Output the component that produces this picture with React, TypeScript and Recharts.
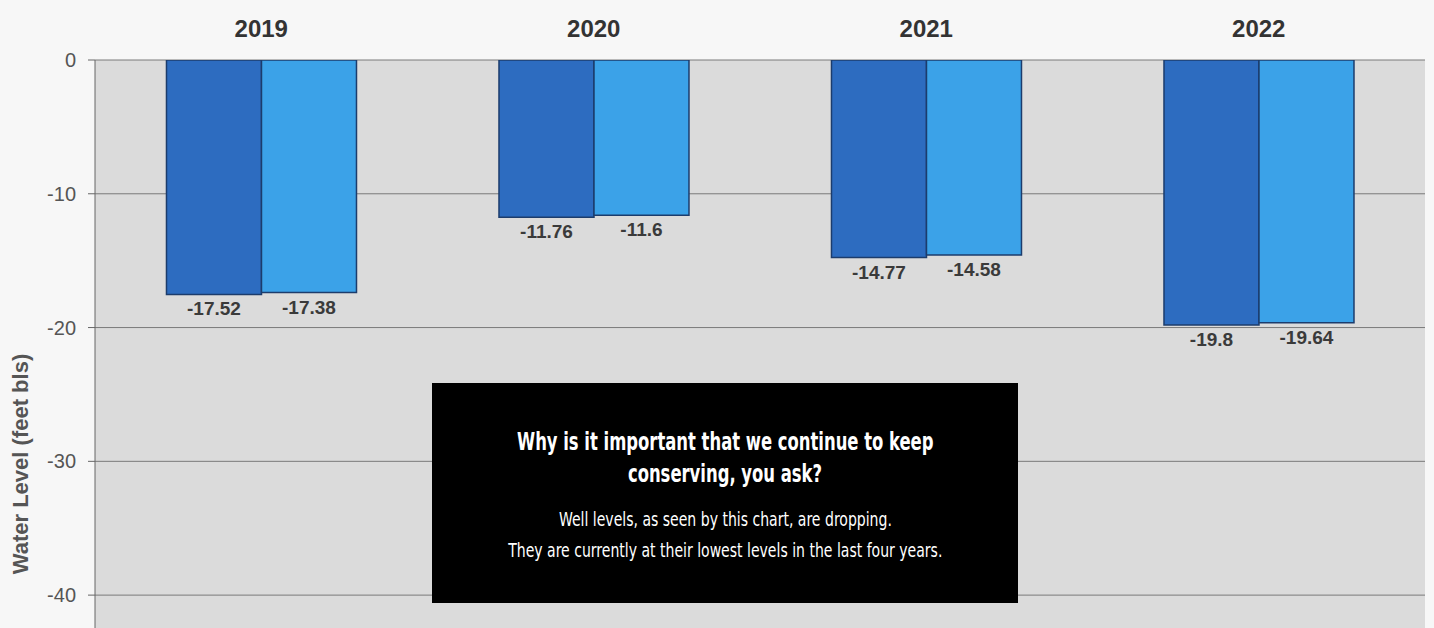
import { BarChart, Bar, XAxis, YAxis, CartesianGrid, LabelList } from 'recharts';

// Well water levels by year (feet below land surface)
const years = ['2019', '2020', '2021', '2022'];
const levelFirst = [-17.52, -11.76, -14.77, -19.8];
const levelSecond = [-17.38, -11.6, -14.58, -19.64];
const yTicks = [0, -10, -20, -30, -40];

const chartData = years.map((year, i) => ({
  year,
  first: levelFirst[i],
  second: levelSecond[i],
}));

const AXIS_FONT = '"Liberation Sans", Arial, sans-serif';
const NOTE_FONT = '"Liberation Sans Narrow", "DejaVu Sans Condensed", "Liberation Sans", sans-serif';

// label drawn just under the bottom end of each (negative) bar
const renderValueLabel = (props: any) => {
  const { x, y, width, height, value } = props;
  const bottom = Math.max(Number(y), Number(y) + Number(height));
  return (
    <text
      x={Number(x) + Number(width) / 2}
      y={bottom + 21}
      textAnchor="middle"
      fill="#3a3a3a"
      fontSize={19}
      fontWeight="bold"
      fontFamily={AXIS_FONT}
    >
      {value}
    </text>
  );
};

const renderAxisLabel = () => (
  <text
    x={28}
    y={464}
    transform="rotate(-90, 28, 464)"
    textAnchor="middle"
    fill="#555"
    fontSize={22}
    fontWeight="bold"
    fontFamily={AXIS_FONT}
  >
    Water Level (feet bls)
  </text>
);

const squeeze = (sx: number) => ({
  display: 'inline-block',
  transform: `scaleX(${sx})`,
  transformOrigin: 'center',
  whiteSpace: 'nowrap' as const,
});

export default function App() {
  return (
    <div style={{ position: 'absolute', top: 0, left: 0, width: 1434, height: 628, overflow: 'hidden', background: '#f7f7f7' }}>
      <BarChart
        width={1434}
        height={670}
        data={chartData}
        margin={{ top: 30, right: 9, left: 0, bottom: 8 }}
        barCategoryGap="21.5%"
        barGap={0}
      >
        <CartesianGrid vertical={false} stroke="#7a7a7a" fill="#dbdbdb" fillOpacity={1} />
        <XAxis
          dataKey="year"
          orientation="top"
          height={30}
          axisLine={false}
          tickLine={false}
          tickMargin={17}
          tick={{ fill: '#333', fontSize: 24, fontWeight: 'bold', fontFamily: AXIS_FONT }}
        />
        <YAxis
          width={95}
          domain={[-45, 0]}
          ticks={yTicks}
          allowDataOverflow
          axisLine={{ stroke: '#666' }}
          tickLine={{ stroke: '#666' }}
          tickSize={7}
          tickMargin={12}
          tick={{ fill: '#555', fontSize: 20, fontFamily: AXIS_FONT }}
          label={{ content: renderAxisLabel }}
        />
        <YAxis
          yAxisId="frame"
          orientation="right"
          width={0}
          domain={[-45, 0]}
          tick={false}
          tickLine={false}
          axisLine={{ stroke: '#888', strokeWidth: 2 }}
        />
        <Bar dataKey="first" fill="#2d6cc0" stroke="#1c3c6c" strokeWidth={1.5} isAnimationActive={false}>
          <LabelList dataKey="first" content={renderValueLabel} />
        </Bar>
        <Bar dataKey="second" fill="#3ba2e8" stroke="#1c3c6c" strokeWidth={1.5} isAnimationActive={false}>
          <LabelList dataKey="second" content={renderValueLabel} />
        </Bar>
      </BarChart>
      <div
        style={{
          position: 'absolute',
          left: 432,
          top: 383,
          width: 586,
          height: 220,
          background: '#000',
          color: '#fff',
          textAlign: 'center',
          fontFamily: NOTE_FONT,
          boxSizing: 'border-box',
          paddingTop: 43,
        }}
      >
        <div style={{ fontSize: 25, fontWeight: 'bold', lineHeight: '32px' }}>
          <span style={squeeze(0.73)}>Why is it important that we continue to keep</span>
          <br />
          <span style={squeeze(0.73)}>conserving, you ask?</span>
        </div>
        <div style={{ fontSize: 20, lineHeight: '31px', marginTop: 14 }}>
          <span style={squeeze(0.78)}>Well levels, as seen by this chart, are dropping.</span>
          <br />
          <span style={squeeze(0.78)}>They are currently at their lowest levels in the last four years.</span>
        </div>
      </div>
    </div>
  );
}
